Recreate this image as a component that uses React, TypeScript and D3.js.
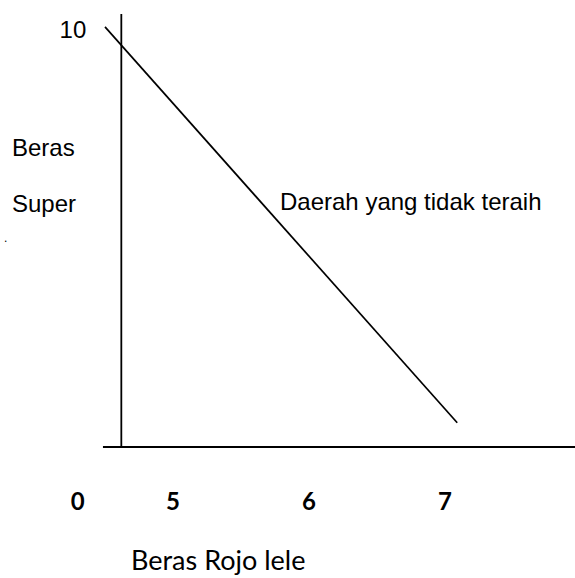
import React from "react";
import * as d3 from "d3";

// ---- data ----
const xTickValues = [4.3, 5, 6, 7];
const xTickLabels = ["0", "5", "6", "7"];
const yTickValues = [10];
const yTickLabels = ["10"];
const budgetX = [4.5, 7.09];
const budgetY = [10.05, 0.58];
const yAxisLabelLines = ["Beras", "Super", "."];
const xAxisLabel = "Beras Rojo lele";
const regionLabel = "Daerah yang tidak teraih";

const W = 575;
const H = 578;

export default function App() {
  const x = d3.scaleLinear().domain([4, 8]).range([37, 581]);
  const y = d3.scaleLinear().domain([0, 10]).range([447, 29]);
  const originX = x(4.62);
  const line = d3
    .line<number>()
    .x((_, i) => x(budgetX[i]))
    .y((d) => y(d));
  const sans = "'Liberation Sans', Arial, sans-serif";
  const cal = "Lato, 'Open Sans', sans-serif";
  return (
    <svg
      width={W}
      height={H}
      style={{ position: "absolute", left: 0, top: 0, background: "#fff" }}
    >
      <rect width={W} height={H} fill="#fff" />
      {/* axes */}
      <line x1={originX} x2={originX} y1={y(10.36)} y2={y(0)} stroke="#000" strokeWidth={1.8} />
      <line x1={x(4.485)} x2={x(8)} y1={y(0)} y2={y(0)} stroke="#000" strokeWidth={1.9} />
      {/* budget line */}
      <path d={line(budgetY) || ""} fill="none" stroke="#000" strokeWidth={1.7} />
      {/* y tick labels */}
      {yTickValues.map((v, i) => (
        <text key={i} x={originX - 35} y={y(v) + 9} textAnchor="end" fontFamily={sans} fontSize={24} fill="#000">
          {yTickLabels[i]}
        </text>
      ))}
      {/* y axis label lines */}
      <text x={12} y={156} fontFamily={sans} fontSize={24} fill="#000">{yAxisLabelLines[0]}</text>
      <text x={12} y={212} fontFamily={sans} fontSize={24} fill="#000">{yAxisLabelLines[1]}</text>
      <text x={4} y={242} fontFamily={sans} fontSize={12} fill="#000">{yAxisLabelLines[2]}</text>
      {/* region label */}
      <text x={280} y={210} fontFamily={sans} fontSize={24} fill="#000">{regionLabel}</text>
      {/* x tick labels */}
      {xTickValues.map((v, i) => (
        <text key={i} x={x(v)} y={510} textAnchor="middle" fontFamily={cal} fontWeight={700} fontSize={24} fill="#000">
          {xTickLabels[i]}
        </text>
      ))}
      {/* x axis label */}
      <text x={131} y={570} fontFamily={cal} fontSize={27} fill="#000">{xAxisLabel}</text>
    </svg>
  );
}
